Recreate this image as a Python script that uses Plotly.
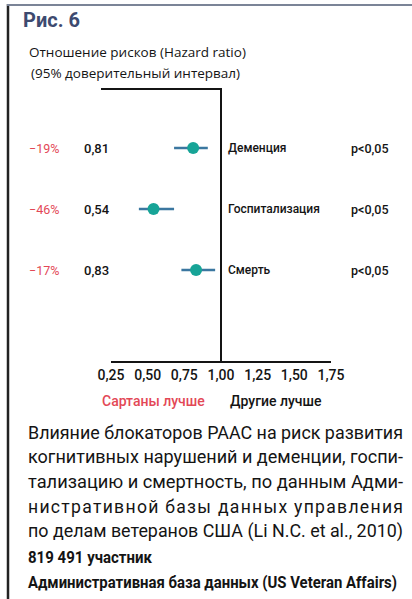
import json
import plotly.graph_objects as go

# --- data -------------------------------------------------------------
outcomes = ["Деменция", "Госпитализация", "Смерть"]
hazard_ratio = [0.81, 0.54, 0.83]
ci_low = [0.68, 0.44, 0.73]
ci_high = [0.91, 0.68, 0.96]
risk_change = ["−19%", "−46%", "−17%"]
p_values = ["p<0,05", "p<0,05", "p<0,05"]
tick_values = [0.25, 0.50, 0.75, 1.00, 1.25, 1.50, 1.75]
tick_labels = ["0,25", "0,50", "0,75", "1,00", "1,25", "1,50", "1,75"]

# caption lines: (text, left px, width px, glyph scale); scale None means the
# glyphs are condensed to fit, a number means the glyphs are scaled by that
# factor and the rest of the width goes to tracking
caption_lines = [
    ("Влияние блокаторов РААС на риск развития", 28, 375, None),
    ("когнитивных нарушений и деменции, госпи-", 28, 375, None),
    ("тализацию и смертность, по данным Адми-", 28, 375, None),
    ("нистративной базы данных управления", 28, 375, 1.1),
    ("по делам ветеранов США (Li N.C. et al., 2010)", 28, 375, None),
]
footer_lines = [
    ("819 491 участник", 28, 124, None),
    ("Административная база данных (US Veteran Affairs)", 28, 369, None),
]

W, H = 412, 599


def X(px):
    return px / W


def Y(py):
    return 1 - py / H


ROW0, ROW_STEP = 148, 61
rows = list(range(len(outcomes)))

TEAL = "#17a497"
BLUE = "#3b77a0"
RED = "#e34856"
INK = "#141414"

fig = go.Figure()

fig.add_trace(go.Scatter(
    x=hazard_ratio,
    y=rows,
    mode="markers",
    marker=dict(size=12, color=TEAL, line=dict(width=0)),
    error_x=dict(
        type="data",
        symmetric=False,
        array=[h - m for h, m in zip(ci_high, hazard_ratio)],
        arrayminus=[m - l for m, l in zip(hazard_ratio, ci_low)],
        color=BLUE,
        thickness=2.6,
        width=0,
    ),
    hoverinfo="skip",
    showlegend=False,
))

ann = []

# figure title and axis caption
ann.append(dict(text="<b>Рис. 6</b>", x=X(21), y=Y(20), xanchor="left", yanchor="middle",
                font=dict(family="Roboto, Arial, sans-serif", size=20, color="#3d4a6f", weight=900)))
ann.append(dict(text="Отношение рисков (Hazard ratio)", x=X(27), y=Y(52), xanchor="left",
                yanchor="middle", font=dict(family="Open Sans, sans-serif", size=13.5, color=INK)))
ann.append(dict(text="(95% доверительный интервал)", x=X(29), y=Y(73), xanchor="left",
                yanchor="middle", font=dict(family="Open Sans, sans-serif", size=13.5, color=INK)))

# per-outcome labels
for i, (pct, hr, name, p) in enumerate(zip(risk_change, hazard_ratio, outcomes, p_values)):
    ann.append(dict(text=pct, x=X(27), y=i, yref="y", xanchor="left", yanchor="middle",
                    font=dict(family="Roboto, sans-serif", size=12.5, color=RED)))
    ann.append(dict(text=f"{hr:.2f}".replace(".", ","), x=X(82), y=i, yref="y",
                    xanchor="left", yanchor="middle",
                    font=dict(family="Roboto, sans-serif", size=13, color=INK, weight=500)))
    ann.append(dict(text=name, x=X(226), y=i, yref="y", xanchor="left", yanchor="middle",
                    font=dict(family="Roboto, sans-serif", size=12, color=INK, weight=500)))
    ann.append(dict(text=p, x=X(349), y=i, yref="y", xanchor="left", yanchor="middle",
                    font=dict(family="Roboto, sans-serif", size=12.5, color=INK, weight=500)))

# favour labels under the axis
ann.append(dict(text="Сартаны лучше", x=X(153), y=Y(401), xanchor="center", yanchor="middle",
                font=dict(family="Roboto, sans-serif", size=14, color=RED, weight=500)))
ann.append(dict(text="Другие лучше", x=X(276), y=Y(401), xanchor="center", yanchor="middle",
                font=dict(family="Roboto, sans-serif", size=14, color=INK, weight=500)))

# caption block: set small, then drawn taller and condensed (see post_script)
fit = {}
CAP_SIZE, CAP_TALL = 16, 1.16
cap_font = dict(family="Roboto, sans-serif", size=CAP_SIZE, color=INK)
cap_y = [432, 456, 481, 506, 530]
for (text, left, width, scale), cy in zip(caption_lines, cap_y):
    ann.append(dict(text=text, x=X(left), y=Y(cy), xanchor="left", yanchor="middle",
                    font=cap_font))
    fit[text] = [left, width, scale, CAP_TALL]

FOOT_SIZE, FOOT_TALL = 15, 1.14
foot_font = dict(family="Roboto, sans-serif", size=FOOT_SIZE, color=INK, weight=700)
for (text, left, width, scale), fy in zip(footer_lines, [557, 582]):
    ann.append(dict(text=text, x=X(left), y=Y(fy), xanchor="left", yanchor="middle",
                    font=foot_font))
    fit[text] = [left, width, scale, FOOT_TALL]

for a in ann:
    a.setdefault("xref", "paper")
    a.setdefault("yref", "paper")
    a["showarrow"] = False

shapes = [
    # page frame: left rule and top rule
    dict(type="line", xref="paper", yref="paper", x0=X(8), x1=X(8), y0=Y(4), y1=0,
         line=dict(color="#222222", width=2.5)),
    dict(type="line", xref="paper", yref="paper", x0=X(7), x1=1, y0=Y(5), y1=Y(5),
         line=dict(color="#7b8497", width=2)),
    # bracket above the plot and the line of no effect
    dict(type="line", xref="paper", yref="paper", x0=X(101), x1=X(222), y0=Y(89), y1=Y(89),
         line=dict(color=INK, width=2)),
    dict(type="line", xref="x", yref="paper", x0=1.0, x1=1.0, y0=Y(89), y1=Y(362),
         line=dict(color=INK, width=2)),
]

fig.update_layout(
    width=W, height=H,
    margin=dict(l=0, r=0, t=0, b=0, autoexpand=False),
    paper_bgcolor="white", plot_bgcolor="white",
    xaxis=dict(
        domain=[X(111), X(331)], range=[0.25, 1.75],
        anchor="free", position=Y(362),
        showline=True, linecolor=INK, linewidth=2,
        showgrid=False, zeroline=False, ticks="",
        tickvals=tick_values, ticktext=tick_labels,
        tickfont=dict(family="Roboto, sans-serif", size=14, color=INK, weight=500),
    ),
    yaxis=dict(
        domain=[0, 1],
        range=[(H - ROW0) / ROW_STEP, -ROW0 / ROW_STEP],
        visible=False, showgrid=False, zeroline=False,
    ),
    annotations=ann,
    shapes=shapes,
)

# set the caption in a tall, condensed, justified measure: each line is
# fitted to its column width, pinned to its left edge and kept centred on
# its row; its background box follows
post_script = """
var gd = document.getElementById('{plot_id}');
var fit = %s;
gd.querySelectorAll('text.annotation-text').forEach(function (t) {
  var f = fit[t.textContent];
  if (!f) { return; }
  var left = f[0], width = f[1], s = f[2], sy = f[3];
  var tr = t.getAttribute('transform') || '';
  var r0 = t.getBoundingClientRect();
  var cy = r0.top + r0.height / 2;
  var sx = 1;
  if (s) {
    t.setAttribute('textLength', width / s);
    t.setAttribute('lengthAdjust', 'spacing');
    sx = s;
  } else {
    t.setAttribute('textLength', width);
    t.setAttribute('lengthAdjust', 'spacingAndGlyphs');
  }
  var sc = ' scale(' + sx + ',' + sy + ')';
  t.setAttribute('transform', tr + sc);
  var gr = gd.getBoundingClientRect();
  var r = t.getBoundingClientRect();
  var dx = (gr.left + left) - r.left;
  var dy = cy - (r.top + r.height / 2);
  t.setAttribute('transform', tr + ' translate(' + dx + ',' + dy + ')' + sc);
  var g = t.closest('g.annotation');
  var bg = g ? g.querySelector('rect.bg') : null;
  if (bg) {
    var rb = bg.getBoundingClientRect();
    var r2 = t.getBoundingClientRect();
    bg.setAttribute('width', r2.width);
    var btr = bg.getAttribute('transform') || '';
    bg.setAttribute('transform', btr + ' translate(' + (r2.left - rb.left) + ',0)');
  }
});
""" % json.dumps(fit, ensure_ascii=False)

fig.write_html("out.html", post_script=post_script)
